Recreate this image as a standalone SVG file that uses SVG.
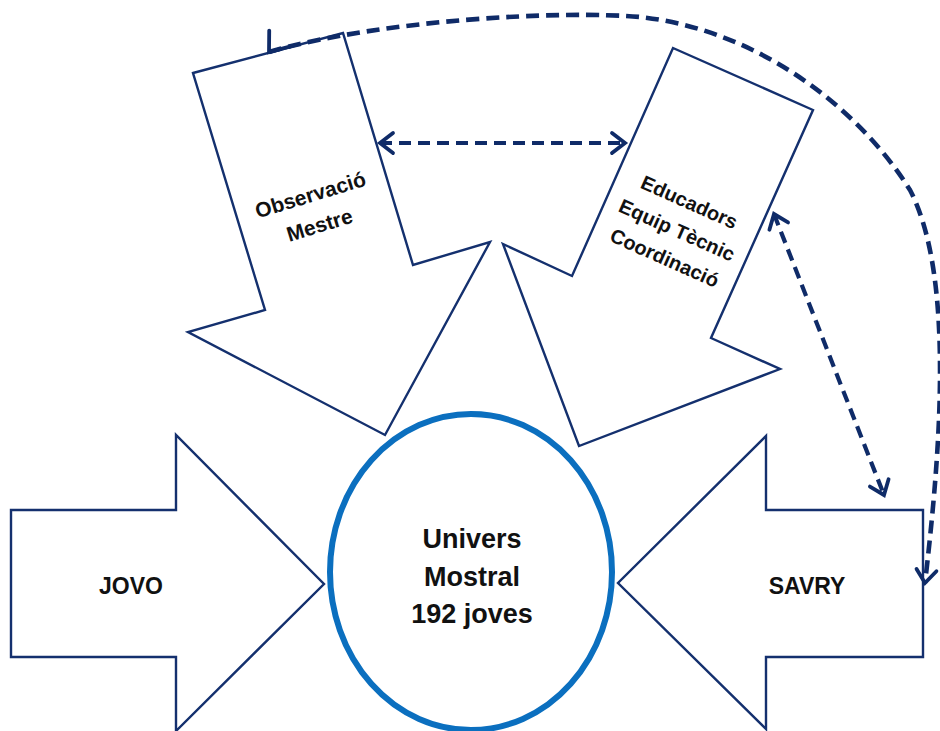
<svg xmlns="http://www.w3.org/2000/svg" width="940" height="731" viewBox="0 0 940 731">
<style>
.shape{fill:#ffffff;stroke:#14306e;stroke-width:2.4;stroke-linejoin:miter}
.lbl{font-family:"Liberation Sans",Arial,sans-serif;font-weight:700;fill:#111111;text-anchor:middle}
.conn{fill:none;stroke:#0f2b68;stroke-width:4.2;stroke-dasharray:12 7}
.big{stroke-width:4.6;stroke-dasharray:13 7}
.hd{fill:none;stroke:#0f2b68;stroke-width:3.8;stroke-dasharray:none;stroke-linecap:round;stroke-linejoin:miter}
</style>
<defs>
<marker id="head" markerUnits="userSpaceOnUse" viewBox="-20 -14 24 28" refX="0" refY="0" markerWidth="24" markerHeight="28" orient="auto-start-reverse">
<path class="hd" d="M-13,-10 L0,0 L-13,10"/>
</marker>
<marker id="headFixed" markerUnits="userSpaceOnUse" viewBox="-22 -16 26 32" refX="0" refY="0" markerWidth="26" markerHeight="32" orient="128">
<path class="hd" d="M-17,-13 L0,0 L-17,13"/>
</marker>
</defs>

<g id="node-observacio">
<polygon class="shape" points="193,73 343,33 413,265 490,242 385,435 188,332 265,310"/>
<text class="lbl" font-size="21" transform="translate(315,210) rotate(-17)"><tspan x="0" y="-8.5">Observació</tspan><tspan x="0" y="23">Mestre</tspan></text>
</g>

<g id="node-educadors">
<polygon class="shape" points="673,48 813,110 711,338 780,369 579,446 503,244 572,276"/>
<text class="lbl" font-size="20" transform="translate(677,230) rotate(24)"><tspan x="0" y="-23.5">Educadors</tspan><tspan x="0" y="7">Equip Tècnic</tspan><tspan x="0" y="37.5">Coordinació</tspan></text>
</g>

<g id="node-jovo">
<polygon class="shape" points="11,510 176,510 176,435 324,584 176,731 176,657 11,657"/>
<text class="lbl" font-size="23" x="131" y="594">JOVO</text>
</g>

<g id="node-savry">
<polygon class="shape" points="923,510 766,510 766,436 618,583 766,729 766,657 923,657"/>
<text class="lbl" font-size="23" x="807" y="594">SAVRY</text>
</g>

<g id="node-univers">
<ellipse cx="471" cy="572" rx="141" ry="158" fill="#ffffff" stroke="#0b6fbf" stroke-width="6"/>
<text class="lbl" font-size="27" x="472" y="548">Univers</text>
<text class="lbl" font-size="27" x="472" y="586">Mostral</text>
<text class="lbl" font-size="27" x="472" y="623">192 joves</text>
</g>

<g id="connectors">
<path class="conn" d="M380,143 L625,143" marker-start="url(#head)" marker-end="url(#head)"/>
<path class="conn" d="M774,214 L884,495" marker-start="url(#head)" marker-end="url(#head)"/>
<path class="conn big" d="M269,52 C380,20 560,10 640,17 C760,30 860,110 910,190 C957,280 938,470 925,583" marker-start="url(#headFixed)" marker-end="url(#head)"/>
</g>
</svg>
